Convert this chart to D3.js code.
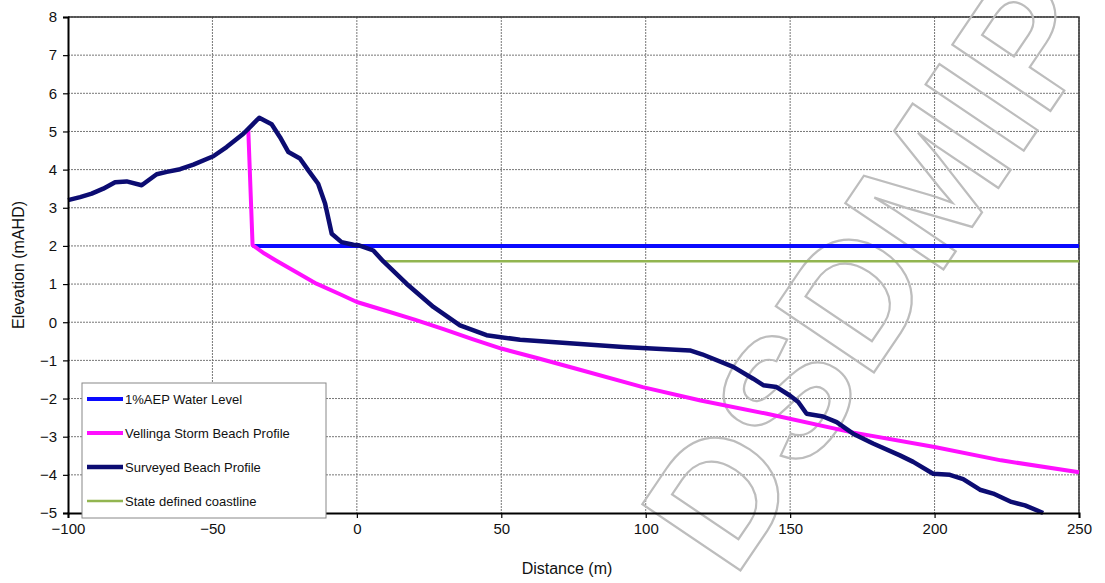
<!DOCTYPE html>
<html>
<meta charset="utf-8">
<style>
body{ margin:0; background:#fff; }
svg text{ font-family: Arial, "Liberation Sans", sans-serif; }
.grid line{ stroke:#777; stroke-width:1; stroke-dasharray:2,1; }
.tick text{ font-size:15px; fill:#111; }
.legend text{ font-size:13px; fill:#111; }
</style>
<body>
<svg width="1105" height="583"></svg>
<script src="https://cdn.jsdelivr.net/npm/d3@7"></script>
<script>

// surveyed beach profile (distance m, elevation mAHD)
var surveyX = [-100, -95.8, -91.8, -87.8, -83.7, -79.7, -74.5, -69.3, -65.8, -61.2, -56.6, -49.7, -45.1, -39.3, -36.4, -33.8,
  -29.5, -26.6, -23.7, -19.7, -16.8, -13.4, -11, -8.7, -5.3, -1.2, 0.5, 5.7, 9.1, 17.2, 26.5, 35.7, 44.9, 56.5, 74.9,
  92.2, 115.3, 119.5, 130.3, 137.2, 140.7, 145.3, 149.9, 152.8, 155.7, 161.4, 166.1, 171.8, 178.7, 188, 192.6, 199.5,
  205.3, 209.9, 215.7, 220.3, 226.6, 231.3, 237.6];
var surveyY = [3.2, 3.28, 3.37, 3.5, 3.67, 3.69, 3.59, 3.88, 3.94, 4.01, 4.13, 4.35, 4.59, 4.94, 5.16, 5.36,
  5.19, 4.85, 4.46, 4.29, 3.98, 3.63, 3.11, 2.32, 2.1, 2.03, 2.02, 1.88, 1.6, 1.01, 0.4, -0.08, -0.34, -0.46, -0.56,
  -0.65, -0.74, -0.84, -1.17, -1.48, -1.65, -1.7, -1.92, -2.09, -2.4, -2.47, -2.62, -2.92, -3.18, -3.49, -3.66, -3.97,
  -4.0, -4.11, -4.39, -4.49, -4.71, -4.8, -5.0];

// vellinga storm beach profile
var vellX = [-37.6, -36.1, -32, -28, -20, -14, -6, 0, 10, 20, 30, 40, 50, 63, 75, 99, 119, 142, 171, 200, 223, 250];
var vellY = [5.07, 2.02, 1.8, 1.62, 1.27, 1.01, 0.74, 0.53, 0.3, 0.07, -0.18, -0.44, -0.69, -0.95, -1.2, -1.7, -2.05, -2.4, -2.88, -3.27, -3.62, -3.93];

// 1% AEP water level and state coastline
var waterX = [-36.1, 250], waterY = [2, 2];
var coastX = [8.6, 250], coastY = [1.6, 1.6];

var seriesNames = ["1%AEP Water Level", "Vellinga Storm Beach Profile", "Surveyed Beach Profile", "State defined coastline"];
var seriesColors = ["#0a0aff", "#ff10ff", "#0c0c72", "#92b550"];
var seriesWidths = [4, 4, 4.5, 2.5];

var xTicks = [-100, -50, 0, 50, 100, 150, 200, 250];
var yTicks = [-5, -4, -3, -2, -1, 0, 1, 2, 3, 4, 5, 6, 7, 8];

var svg = d3.select("svg");
var plotL = 68, plotR = 1079, plotT = 17, plotB = 513;

var x = d3.scaleLinear().domain([-100, 250]).range([plotL, plotR]);
var y = d3.scaleLinear().domain([-5, 8]).range([plotB, plotT]);

// gridlines
var grid = svg.append("g").attr("class", "grid");
grid.selectAll(".h").data(yTicks.slice(1)).enter().append("line")
    .attr("x1", plotL).attr("x2", plotR)
    .attr("y1", function(d) { return y(d); }).attr("y2", function(d) { return y(d); });
grid.selectAll(".v").data(xTicks.slice(1)).enter().append("line")
    .attr("y1", plotT).attr("y2", plotB)
    .attr("x1", function(d) { return x(d); }).attr("x2", function(d) { return x(d); });

// top / right frame
svg.append("path")
    .attr("d", "M" + plotL + "," + plotT + "H" + plotR + "V" + plotB)
    .attr("fill", "none").attr("stroke", "#333").attr("stroke-width", 1.5);

// watermark
svg.append("text")
    .attr("transform", "translate(734,580) rotate(-56)")
    .attr("font-size", 172).attr("font-weight", "bold")
    .attr("fill", "none").attr("stroke", "#bdbdbd").attr("stroke-width", 2.2)
    .text("DSDMIP");

// series
var line = d3.line().x(function(d) { return x(d[0]); }).y(function(d) { return y(d[1]); });
var data = [d3.zip(waterX, waterY), d3.zip(vellX, vellY), d3.zip(surveyX, surveyY), d3.zip(coastX, coastY)];
var order = [3, 0, 1, 2];
order.forEach(function(i) {
  svg.append("path")
      .datum(data[i])
      .attr("d", line)
      .attr("fill", "none")
      .attr("stroke", seriesColors[i])
      .attr("stroke-width", seriesWidths[i])
      .attr("stroke-linejoin", "round");
});

// axes
var xAxis = svg.append("g").attr("transform", "translate(0," + plotB + ")")
    .call(d3.axisBottom(x).tickValues(xTicks).tickSize(5).tickPadding(5));
var yAxis = svg.append("g").attr("transform", "translate(" + plotL + ",0)")
    .call(d3.axisLeft(y).tickValues(yTicks).tickSize(5).tickPadding(6));
[xAxis, yAxis].forEach(function(a) {
  a.select(".domain").attr("stroke", "#000").attr("stroke-width", 2);
  a.selectAll(".tick line").attr("stroke", "#000").attr("stroke-width", 1.2);
  a.selectAll(".tick text").style("font-family", "Arial, 'Liberation Sans', sans-serif");
});

// axis titles
svg.append("text").attr("x", 567).attr("y", 574).attr("text-anchor", "middle")
    .attr("font-size", 16).attr("fill", "#111").text("Distance (m)");
svg.append("text").attr("transform", "translate(24,265) rotate(-90)").attr("text-anchor", "middle")
    .attr("font-size", 16).attr("fill", "#111").text("Elevation (mAHD)");

// legend
var legend = svg.append("g").attr("class", "legend");
legend.append("rect").attr("x", 82).attr("y", 383).attr("width", 244).attr("height", 135)
    .attr("fill", "#fff").attr("stroke", "#888").attr("stroke-width", 1);
var item = legend.selectAll(".item").data(seriesNames).enter().append("g")
    .attr("transform", function(d, i) { return "translate(87," + (399 + i * 34) + ")"; });
item.append("line").attr("x1", 0).attr("x2", 36)
    .attr("stroke", function(d, i) { return seriesColors[i]; })
    .attr("stroke-width", function(d, i) { return seriesWidths[i]; });
item.append("text").attr("x", 38).attr("dy", "0.35em").text(function(d) { return d; });

</script>
</body>
</html>
